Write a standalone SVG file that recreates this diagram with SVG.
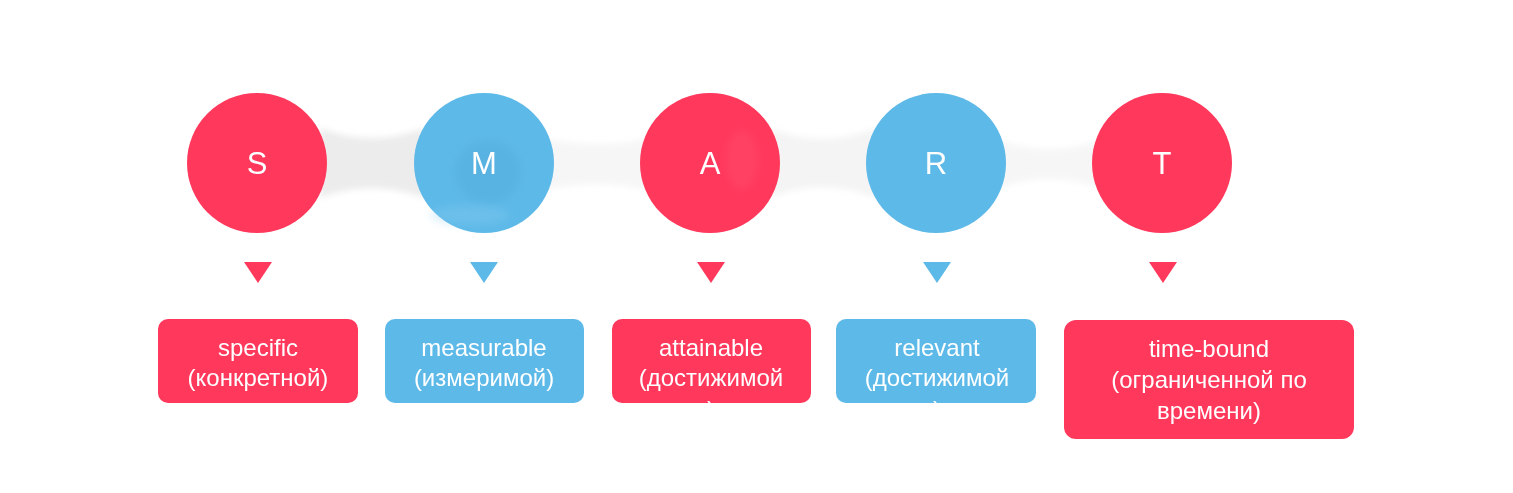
<svg xmlns="http://www.w3.org/2000/svg" width="1513" height="493" viewBox="0 0 1513 493">
<style>
.red{fill:#FF385C}
.blue{fill:#5DB9E8}
.lt{font-family:"Liberation Sans",Arial,sans-serif;fill:#fff;text-anchor:middle}
.big{font-size:31px}
.lbl{font-size:24px}
.bridge{fill:#ececec}
</style>
<defs>
<filter id="soft" x="-20%" y="-50%" width="140%" height="200%"><feGaussianBlur stdDeviation="3"/></filter>
<filter id="inner" x="-50%" y="-50%" width="200%" height="200%"><feGaussianBlur stdDeviation="4"/></filter>
</defs>
<rect width="1513" height="493" fill="#fff"/>
<g id="connectors" filter="url(#soft)">
<path class="bridge" d="M320,128 Q370,148 425,128 L425,198 Q370,178 320,198 Z"/>
<path class="bridge" d="M545,138 Q597,150 650,138 L650,190 Q597,178 545,190 Z" opacity="0.45"/>
<path class="bridge" d="M770,128 Q822,150 875,128 L875,198 Q822,176 770,198 Z" opacity="0.6"/>
<path class="bridge" d="M998,140 Q1050,158 1100,140 L1100,188 Q1050,170 998,188 Z" opacity="0.45"/>
</g>
<g id="node-S">
<circle class="red" cx="257" cy="163" r="70"/>
<text class="lt big" x="257" y="174">S</text>
<path class="red" d="M244,262 L272,262 L258,283 Z"/>
<rect class="red" x="158" y="319" width="200" height="84" rx="10"/>
<text class="lt lbl" x="258" y="356">specific</text>
<text class="lt lbl" x="258" y="386">(конкретной)</text>
</g>
<g id="node-M">
<circle class="blue" cx="484" cy="163" r="70"/>
<ellipse cx="488" cy="172" rx="33" ry="32" fill="#58B3E2" filter="url(#inner)"/>
<ellipse cx="470" cy="215" rx="40" ry="10" fill="#8ECDF0" opacity="0.3" filter="url(#inner)"/>
<text class="lt big" x="484" y="174">M</text>
<path class="blue" d="M470,262 L498,262 L484,283 Z"/>
<rect class="blue" x="385" y="319" width="199" height="84" rx="10"/>
<text class="lt lbl" x="484" y="356">measurable</text>
<text class="lt lbl" x="484" y="386">(измеримой)</text>
</g>
<g id="node-A">
<circle class="red" cx="710" cy="163" r="70"/>
<ellipse cx="742" cy="160" rx="16" ry="30" fill="#FF5A78" opacity="0.3" filter="url(#inner)"/>
<text class="lt big" x="710" y="174">A</text>
<path class="red" d="M697,262 L725,262 L711,283 Z"/>
<rect class="red" x="612" y="319" width="199" height="84" rx="10"/>
<text class="lt lbl" x="711" y="356">attainable</text>
<text class="lt lbl" x="711" y="386">(достижимой</text>
<text class="lt lbl" x="711" y="418">)</text>
</g>
<g id="node-R">
<circle class="blue" cx="936" cy="163" r="70"/>
<text class="lt big" x="936" y="174">R</text>
<path class="blue" d="M923,262 L951,262 L937,283 Z"/>
<rect class="blue" x="836" y="319" width="200" height="84" rx="10"/>
<text class="lt lbl" x="937" y="356">relevant</text>
<text class="lt lbl" x="937" y="386">(достижимой</text>
<text class="lt lbl" x="937" y="418">)</text>
</g>
<g id="node-T">
<circle class="red" cx="1162" cy="163" r="70"/>
<text class="lt big" x="1162" y="174">T</text>
<path class="red" d="M1149,262 L1177,262 L1163,283 Z"/>
<rect class="red" x="1064" y="320" width="290" height="119" rx="12"/>
<text class="lt lbl" x="1209" y="357">time-bound</text>
<text class="lt lbl" x="1209" y="388">(ограниченной по</text>
<text class="lt lbl" x="1209" y="419">времени)</text>
</g>
</svg>
